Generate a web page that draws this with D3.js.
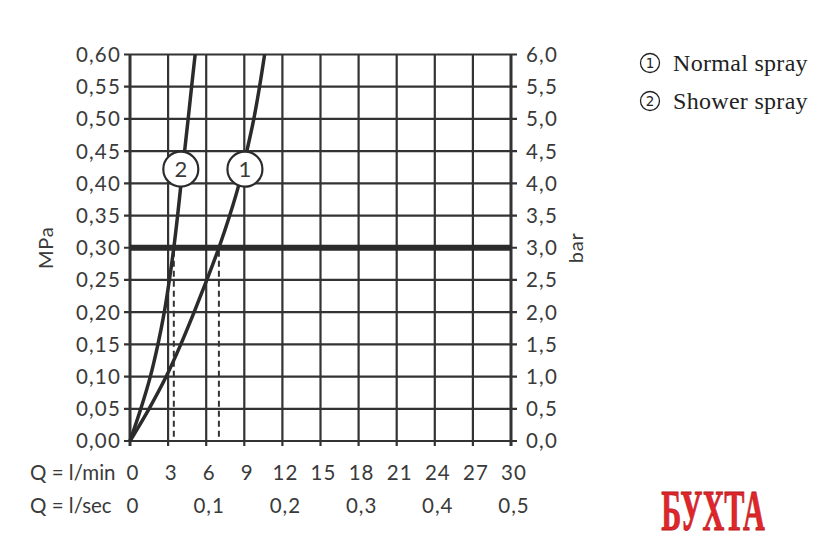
<!DOCTYPE html>
<html>
<head>
<meta charset="utf-8">
<script src="https://cdn.jsdelivr.net/npm/d3@7"></script>
<style>
  body { margin: 0; background: #fff; }
  svg text { font-family: Lato, "Open Sans", sans-serif; fill: #3a3a3a; }
</style>
</head>
<body>
<div id="chart"></div>
<script>
// pressure steps (MPa) and flow read for each curve (l/min)
var pressure = [0, 0.05, 0.10, 0.15, 0.20, 0.25, 0.30, 0.35, 0.40, 0.45, 0.50, 0.55, 0.60];
var normalFlow = [0, 1.5, 2.85, 4.0, 5.05, 6.05, 7.0, 7.85, 8.6, 9.2, 9.75, 10.2, 10.6];
var showerFlow = [0, 0.85, 1.6, 2.2, 2.7, 3.1, 3.45, 3.75, 4.02, 4.3, 4.58, 4.85, 5.13];

var mpaTicks = [0, 0.05, 0.10, 0.15, 0.20, 0.25, 0.30, 0.35, 0.40, 0.45, 0.50, 0.55, 0.60];
var minTicks = [0, 3, 6, 9, 12, 15, 18, 21, 24, 27, 30];
var secTicks = [0, 0.1, 0.2, 0.3, 0.4, 0.5];
var refPressure = 0.30;
var operatingFlow = [3.45, 7.0];   // dashed drop lines
var curveLabels = ["1", "2"];
var labelPos = [[9.05, 0.422], [4.0, 0.422]];
var legendItems = ["Normal spray", "Shower spray"];

var W = 840, H = 548;
var margin = {top: 54.5, right: 329, bottom: 107, left: 130};

var svg = d3.select('#chart').append('svg')
    .attr('width', W)
    .attr('height', H);

var x = d3.scaleLinear().domain([0, 30]).range([margin.left, W - margin.right]);
var y = d3.scaleLinear().domain([0, 0.6]).range([H - margin.bottom, margin.top]);
var fmt = function (d, n) { return d.toFixed(n).replace('.', ','); };

var grid = svg.append('g').attr('stroke', '#333').attr('stroke-width', 2.2);

// horizontal grid with ticks sticking out on both sides
grid.selectAll('line.h').data(mpaTicks).enter().append('line')
    .attr('x1', x(0) - 6).attr('x2', x(30) + 6)
    .attr('y1', function (d) { return y(d); })
    .attr('y2', function (d) { return y(d); });

// vertical grid with ticks below
grid.selectAll('line.v').data(minTicks).enter().append('line')
    .attr('x1', function (d) { return x(d); })
    .attr('x2', function (d) { return x(d); })
    .attr('y1', y(0.6))
    .attr('y2', y(0) + 5)
    .attr('stroke-width', function (d) { return (d === 0 || d === 30) ? 3 : 2.2; });

// thick reference line at 3 bar
svg.append('line')
    .attr('x1', x(0)).attr('x2', x(30))
    .attr('y1', y(refPressure)).attr('y2', y(refPressure))
    .attr('stroke', '#2b2b2b').attr('stroke-width', 6);

// dashed drop lines
svg.selectAll('line.drop').data(operatingFlow).enter().append('line')
    .attr('x1', function (d) { return x(d); })
    .attr('x2', function (d) { return x(d); })
    .attr('y1', y(refPressure) + 3).attr('y2', y(0) - 1)
    .attr('stroke', '#333').attr('stroke-width', 2)
    .attr('stroke-dasharray', '6,4');

// curves
var line = d3.line()
    .x(function (d) { return x(d[0]); })
    .y(function (d) { return y(d[1]); })
    .curve(d3.curveCatmullRom);

[normalFlow, showerFlow].forEach(function (flow) {
    svg.append('path')
        .datum(flow.map(function (q, i) { return [q, pressure[i]]; }))
        .attr('d', line)
        .attr('fill', 'none')
        .attr('stroke', '#2b2b2b')
        .attr('stroke-width', 3.5);
});

// curve labels
var lab = svg.selectAll('g.lab').data(curveLabels).enter().append('g')
    .attr('transform', function (d, i) {
        return 'translate(' + x(labelPos[i][0]) + ',' + y(labelPos[i][1]) + ')';
    });
lab.append('circle').attr('r', 17.5)
    .attr('fill', '#fff').attr('stroke', '#2b2b2b').attr('stroke-width', 2.2);
lab.append('text')
    .attr('text-anchor', 'middle').attr('dy', '0.36em')
    .attr('font-size', 22)
    .text(function (d) { return d; });

// left MPa labels
svg.selectAll('text.mpa').data(mpaTicks).enter().append('text')
    .attr('x', x(0) - 9)
    .attr('y', function (d) { return y(d); })
    .attr('dy', '0.36em')
    .attr('text-anchor', 'end')
    .attr('font-size', 20.5)
    .attr('letter-spacing', 1.2)
    .text(function (d) { return fmt(d, 2); });

// right bar labels
svg.selectAll('text.bar').data(mpaTicks).enter().append('text')
    .attr('x', x(30) + 15)
    .attr('y', function (d) { return y(d); })
    .attr('dy', '0.36em')
    .attr('font-size', 20.5)
    .attr('letter-spacing', 1.2)
    .text(function (d) { return fmt(d * 10, 1); });

svg.append('text')
    .attr('transform', 'translate(53,' + y(0.3) + ') rotate(-90)')
    .attr('text-anchor', 'middle')
    .attr('font-size', 20)
    .attr('letter-spacing', 0.8)
    .text('MPa');
svg.append('text')
    .attr('transform', 'translate(583,' + y(0.3) + ') rotate(-90)')
    .attr('text-anchor', 'middle')
    .attr('font-size', 20)
    .attr('letter-spacing', 0.8)
    .text('bar');

// flow axes
var row1 = 473, row2 = 506;
svg.append('text').attr('x', 30).attr('y', row1).attr('dy', '0.36em')
    .attr('font-size', 20.5)
    .text('Q = l/min');
svg.selectAll('text.qmin').data(minTicks).enter().append('text')
    .attr('x', function (d) { return x(d) + 3; })
    .attr('y', row1).attr('dy', '0.36em')
    .attr('text-anchor', 'middle')
    .attr('font-size', 20.5)
    .attr('letter-spacing', 1)
    .text(function (d) { return d; });

svg.append('text').attr('x', 30).attr('y', row2).attr('dy', '0.36em')
    .attr('font-size', 20.5)
    .text('Q = l/sec');
svg.selectAll('text.qsec').data(secTicks).enter().append('text')
    .attr('x', function (d) { return x(d * 60) + 3; })
    .attr('y', row2).attr('dy', '0.36em')
    .attr('text-anchor', 'middle')
    .attr('font-size', 20.5)
    .attr('letter-spacing', 1)
    .text(function (d) { return d === 0 ? '0' : fmt(d, 1); });

// legend
var leg = svg.selectAll('g.leg').data(legendItems).enter().append('g')
    .attr('transform', function (d, i) { return 'translate(650,' + (63 + i * 38) + ')'; });
leg.append('circle').attr('r', 9.5)
    .attr('fill', 'none').attr('stroke', '#222').attr('stroke-width', 1.3);
leg.append('text')
    .attr('text-anchor', 'middle').attr('dy', '0.36em')
    .attr('font-size', 13.5)
    .style('font-family', 'DejaVu Sans, sans-serif')
    .style('fill', '#222')
    .text(function (d, i) { return i + 1; });
leg.append('text')
    .attr('x', 23).attr('dy', '0.33em')
    .attr('font-size', 24)
    .attr('letter-spacing', 0.3)
    .style('font-family', '"Liberation Serif", serif')
    .style('fill', '#222')
    .text(function (d) { return d; });

// watermark
svg.append('text')
    .attr('transform', 'translate(713,530) scale(0.54,1)')
    .attr('text-anchor', 'middle')
    .attr('font-size', 56)
    .attr('font-weight', 'bold')
    .style('font-family', '"Liberation Serif", serif')
    .style('fill', '#e0262b')
    .style('stroke', '#b51c22')
    .style('stroke-width', 0.8)
    .text('БУХТА');
</script>
</body>
</html>
